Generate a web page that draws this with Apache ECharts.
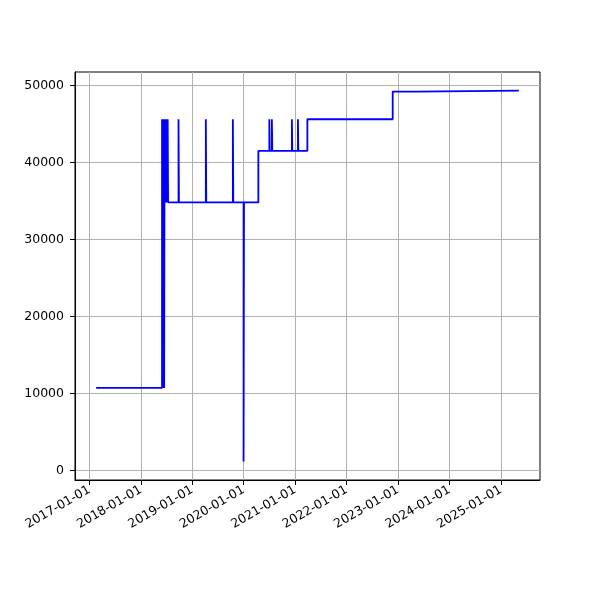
<!DOCTYPE html>
<html>
<head>
<meta charset="utf-8">
<script src="https://cdn.jsdelivr.net/npm/echarts@6/dist/echarts.min.js"></script>
<style>
html,body{margin:0;padding:0;background:#fff;}
#chart{width:600px;height:600px;}
</style>
</head>
<body>
<div id="chart"></div>
<script>
// Change dates (value holds from that date until the next one)
const changeDates = [
  '2017-02-17','2018-05-31','2018-06-03','2018-06-06','2018-06-09','2018-06-12','2018-06-15','2018-06-18',
  '2018-06-21','2018-06-24','2018-06-28','2018-07-02','2018-07-06','2018-07-10','2018-07-13',
  '2018-09-25','2018-09-28','2019-04-07','2019-04-10','2019-10-16','2019-10-19',
  '2019-12-31','2020-01-03','2020-04-14','2020-07-01','2020-07-04','2020-07-19','2020-07-22',
  '2020-12-08','2020-12-11','2021-01-20','2021-01-23','2021-03-28','2022-11-24','2023-05-14','2025-05-08'
];
const values = [
  10700,45600,10700,45600,10700,45600,10700,45600,
  34800,45600,34800,45600,34800,45600,34800,
  45600,34800,45600,34800,45600,34800,
  1150,34800,41500,45600,41500,45600,41500,
  45600,41500,45600,41500,45600,49200,49330,49330
];
const xTickLabels = ['2017-01-01','2018-01-01','2019-01-01','2020-01-01','2021-01-01','2022-01-01','2023-01-01','2024-01-01','2025-01-01'];
const yTickValues = [0,10000,20000,30000,40000,50000];

const toTs = s => Date.parse(s+'T00:00:00Z');
const series = changeDates.map((d,i)=>[toTs(d), values[i]]);
const ts = series.map(p=>p[0]);
const tMin = Math.min(...ts), tMax = Math.max(...ts);
const vMin = Math.min(...values), vMax = Math.max(...values);
const xm = 0.05*(tMax-tMin), ym = 0.05*(vMax-vMin);
const xTickValues = xTickLabels.map(toTs);

const font = 'DejaVu Sans';
const chart = echarts.init(document.getElementById('chart'), null, {renderer:'canvas'});
chart.setOption({
  animation: false,
  backgroundColor: '#fff',
  grid: {left:75, right:60, top:72, bottom:120, show:true, borderColor:'#000', borderWidth:1, backgroundColor:'transparent'},
  xAxis: {
    type:'value', min:tMin-xm, max:tMax+xm, scale:true,
    axisLine:{show:true, onZero:false, lineStyle:{color:'#000', width:1}},
    axisTick:{show:true, length:5, lineStyle:{color:'#000', width:1}, customValues: xTickValues},
    axisLabel:{show:true, rotate:30, margin:9, color:'#000', fontFamily:font, fontSize:12.5,
      customValues: xTickValues,
      formatter:(v)=>new Date(v).toISOString().slice(0,10)},
    splitLine:{show:true, lineStyle:{color:'#b0b0b0', width:1}}
  },
  yAxis: {
    type:'value', min:vMin-ym, max:vMax+ym,
    axisLine:{show:true, onZero:false, lineStyle:{color:'#000', width:1}},
    axisTick:{show:true, length:5, lineStyle:{color:'#000', width:1}, customValues:yTickValues},
    axisLabel:{show:true, margin:11, color:'#000', fontFamily:font, fontSize:12.5, customValues:yTickValues,
      formatter:(v)=>String(Math.round(v))},
    splitLine:{show:true, lineStyle:{color:'#b0b0b0', width:1}}
  },
  series: [{
    type:'line', data:series, step:'end', showSymbol:false, symbol:'none',
    lineStyle:{color:'#0000ff', width:1.8}, itemStyle:{color:'#0000ff'}
  }]
});
</script>
</body>
</html>
